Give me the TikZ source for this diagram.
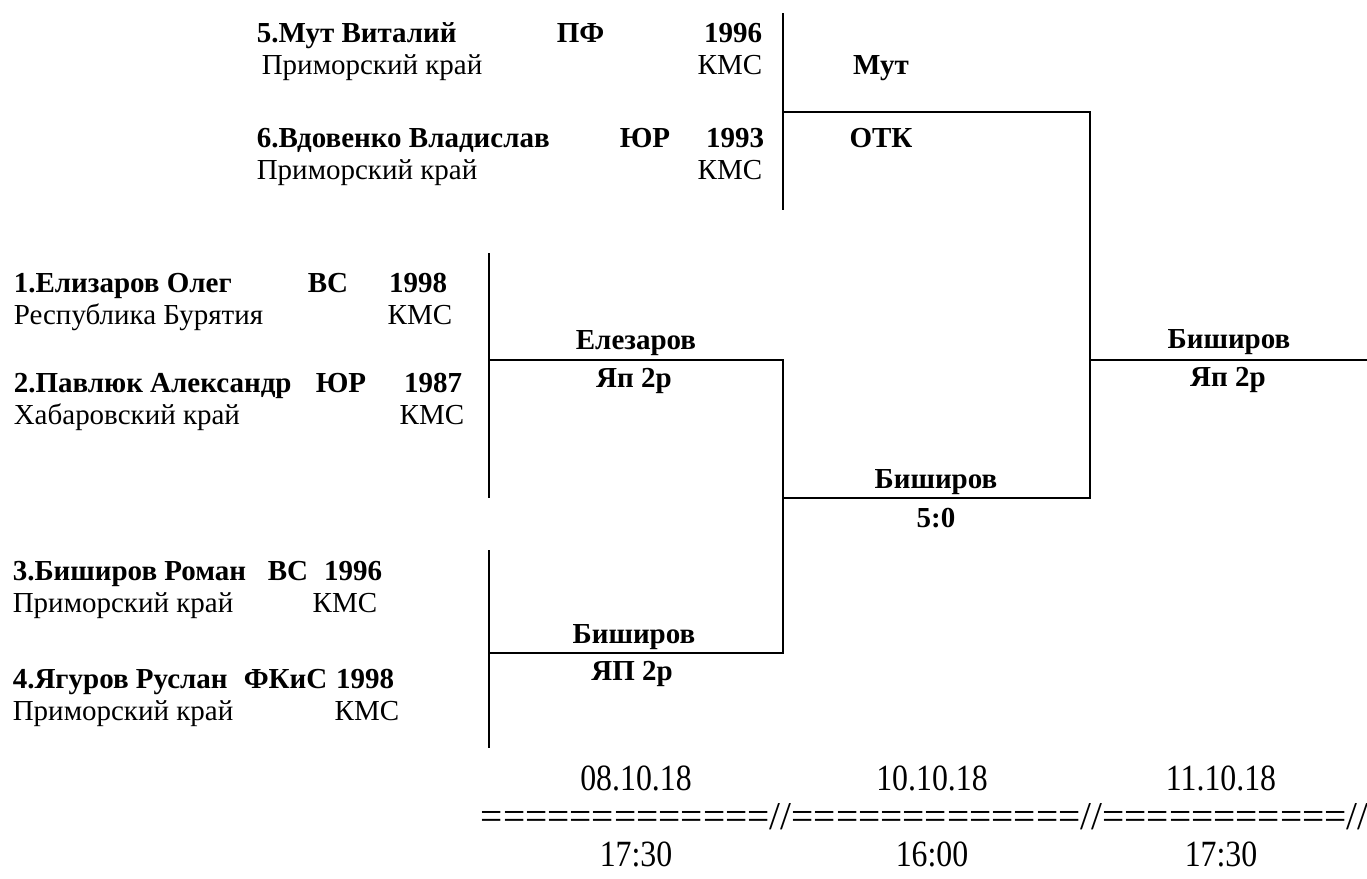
\documentclass[tikz,border=0pt]{standalone}
\usepackage{fontspec}
\setmainfont{Liberation Serif}
\usepackage{tikz}
\newcommand{\narrowtxt}[1]{\scalebox{0.86}[1]{#1}}
\tikzset{
  nm/.style={inner sep=0pt,anchor=base west,font=\fontsize{14.5}{17}\selectfont\bfseries},
  nmr/.style={nm,anchor=base east},
  rg/.style={inner sep=0pt,anchor=base west,font=\fontsize{14.5}{17}\selectfont},
  rgr/.style={rg,anchor=base east},
  res/.style={inner sep=0pt,anchor=base,font=\fontsize{14.5}{17}\selectfont\bfseries},
  dt/.style={inner sep=0pt,anchor=base,font=\fontsize{18.5}{22}\selectfont}
}
\begin{document}
\begin{tikzpicture}[x=0.5pt,y=-0.5pt,line width=0.8pt]
\useasboundingbox (0,0) rectangle (1367,879);
\coordinate (a1) at (783,13);
\coordinate (a2) at (783,210);
\coordinate (a3) at (783,112);
\coordinate (b1) at (1090,112);
\coordinate (b2) at (1090,498);
\coordinate (c1) at (1090,360);
\coordinate (c2) at (783,498);
\coordinate (f1) at (1367,360);
\coordinate (g1) at (489,253);
\coordinate (g2) at (489,498);
\coordinate (g3) at (489,360);
\coordinate (g4) at (489,550);
\coordinate (g5) at (489,748);
\coordinate (g6) at (489,653);
\coordinate (e1) at (783,360);
\coordinate (e2) at (783,653);
\draw (a1)--(a2) (a3)--(b1)--(b2)--(c2)
(c1)--(f1)
(g1)--(g2) (g3)--(e1)--(e2)--(g6)
(g4)--(g5);
% участники
\node[nm] (p5) at (256,42) {5.Мут Виталий};
\node[nm] (p5c) at (556,42) {ПФ};
\node[nmr] (p5y) at (763,42) {1996};
\node[rg] (p5r) at (261,74) {Приморский край};
\node[rgr] (p5k) at (763,74) {КМС};
\node[nm] (p6) at (256,147) {6.Вдовенко Владислав};
\node[nm] (p6c) at (619,147) {ЮР};
\node[nmr] (p6y) at (765,147) {1993};
\node[rg] (p6r) at (256,179) {Приморский край};
\node[rgr] (p6k) at (763,179) {КМС};
\node[nm] (p1) at (13,292) {1.Елизаров Олег};
\node[nm] (p1c) at (307,292) {ВС};
\node[nmr] (p1y) at (448,292) {1998};
\node[rg] (p1r) at (13,324) {Республика Бурятия};
\node[rgr] (p1k) at (453,324) {КМС};
\node[nm] (p2) at (13,392) {2.Павлюк Александр};
\node[nm] (p2c) at (315,392) {ЮР};
\node[nmr] (p2y) at (463,392) {1987};
\node[rg] (p2r) at (13,424) {Хабаровский край};
\node[rgr] (p2k) at (465,424) {КМС};
\node[nm] (p3) at (12,580) {3.Биширов Роман};
\node[nm] (p3c) at (267,580) {ВС};
\node[nmr] (p3y) at (383,580) {1996};
\node[rg] (p3r) at (12,612) {Приморский край};
\node[rgr] (p3k) at (378,612) {КМС};
\node[nm] (p4) at (12,688) {4.Ягуров Руслан};
\node[nm] (p4c) at (243,688) {ФКиС};
\node[nmr] (p4y) at (395,688) {1998};
\node[rg] (p4r) at (12,720) {Приморский край};
\node[rgr] (p4k) at (400,720) {КМС};
% итоги
\node[res] (w56) at (881,74) {Мут};
\node[res] (s56) at (881,147) {ОТК};
\node[res] (w12) at (636,349) {Елезаров};
\node[res] (s12) at (634,387) {Яп 2р};
\node[res] (w34) at (634,643) {Биширов};
\node[res] (s34) at (632,680) {ЯП 2р};
\node[res] (wsf) at (936,488) {Биширов};
\node[res] (ssf) at (936,527) {5:0};
\node[res] (wf) at (1229,348) {Биширов};
\node[res] (sf) at (1228,386) {Яп 2р};
% даты
\node[dt] (day1) at (636,790) {\narrowtxt{08.10.18}};
\node[dt] (day2) at (932,790) {\narrowtxt{10.10.18}};
\node[dt] (day3) at (1221,790) {\narrowtxt{11.10.18}};
\node[dt,anchor=base west,font=\fontsize{19.7}{22}\selectfont] (sep) at (480,829) {=============//=============//===========//};
\node[dt] (hr1) at (636,866) {\narrowtxt{17:30}};
\node[dt] (hr2) at (932,866) {\narrowtxt{16:00}};
\node[dt] (hr3) at (1221,866) {\narrowtxt{17:30}};
\end{tikzpicture}
\end{document}
